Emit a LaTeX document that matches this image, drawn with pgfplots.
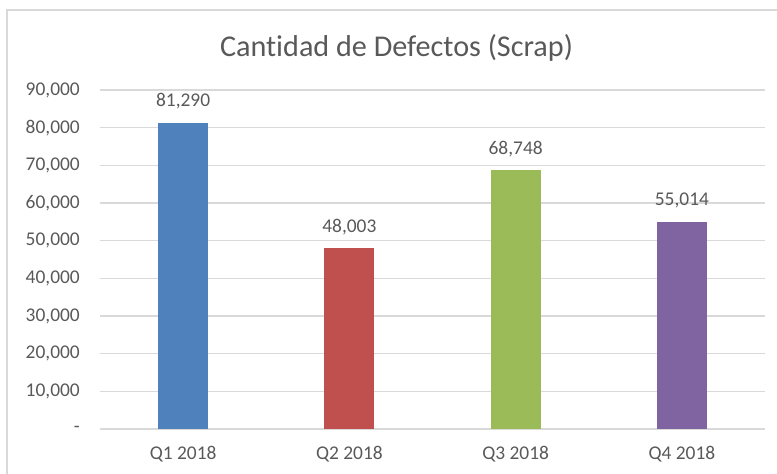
\documentclass[border=0pt]{standalone}
\usepackage{pgfplots}
\pgfplotsset{compat=1.18}
\usepackage{fontspec}
\setmainfont{Carlito}[Ligatures=NoCommon]
\definecolor{txt}{HTML}{595959}
\definecolor{gridc}{HTML}{D9D9D9}
\definecolor{bA}{HTML}{4F81BD}
\definecolor{bB}{HTML}{C0504D}
\definecolor{bC}{HTML}{9BBB59}
\definecolor{bD}{HTML}{8064A2}
\begin{document}
\begin{tikzpicture}[x=1bp,y=1bp]
\path[use as bounding box] (0,0) rectangle (777,474);
\draw[color=gridc, line width=1.2bp] (7,0) -- (7,464) -- (777,464);
\node[font=\fontsize{30.3}{34}\selectfont, text=txt, anchor=base, inner sep=0pt] at (396.5,417) {Cantidad de Defectos (Scrap)};
\begin{axis}[
  at={(100bp,45bp)}, anchor=south west,
  width=665bp, height=339bp, scale only axis,
  xmin=-0.5, xmax=3.5, ymin=0, ymax=90000,
  scaled y ticks=false,
  xtick={0,1,2,3}, xticklabels={Q1 2018,Q2 2018,Q3 2018,Q4 2018},
  ytick={0,10000,20000,30000,40000,50000,60000,70000,80000,90000},
  yticklabels={-,{10,000},{20,000},{30,000},{40,000},{50,000},{60,000},{70,000},{80,000},{90,000}},
  axis line style={draw=none},
  ymajorgrids, major grid style={draw=gridc, line width=1.2bp},
  major tick length=0pt,
  tick label style={font=\fontsize{19.5}{22}\selectfont, text=txt},
  yticklabel style={inner sep=0pt, anchor=east, xshift=-20bp},
  xticklabel style={inner sep=0pt, anchor=north, yshift=-17bp},
  ybar, bar width=50bp, bar shift=0pt,
  nodes near coords={\pgfmathprintnumber[assume math mode=true,fixed,precision=0,1000 sep={,}]{\pgfplotspointmeta}},
  nodes near coords style={font=\fontsize{19.5}{22}\selectfont, text=txt, anchor=base, inner sep=0pt, yshift=16bp},
  clip=false,
]
\addplot[fill=bA, draw=none] coordinates {(0,81290)};
\addplot[fill=bB, draw=none] coordinates {(1,48003)};
\addplot[fill=bC, draw=none] coordinates {(2,68748)};
\addplot[fill=bD, draw=none] coordinates {(3,55014)};
\end{axis}
\end{tikzpicture}
\end{document}
